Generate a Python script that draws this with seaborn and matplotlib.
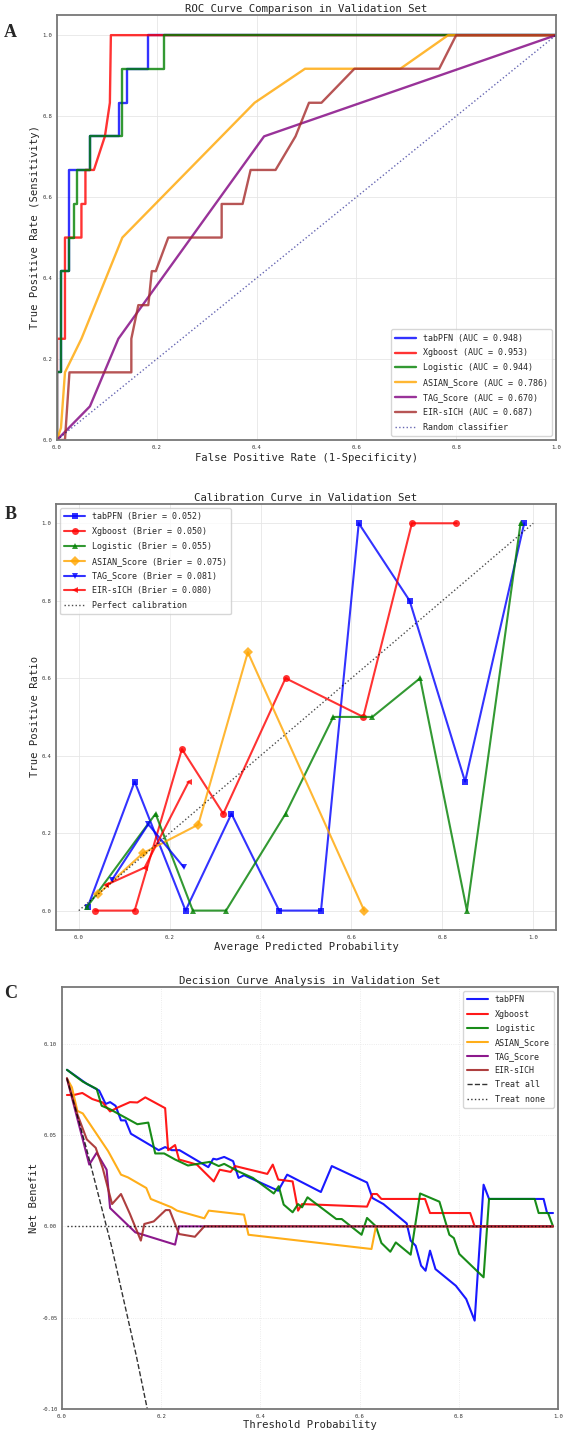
import numpy as np
import pandas as pd
import matplotlib
matplotlib.use("Agg")
import matplotlib.pyplot as plt
import seaborn as sns

# ---- data ----
models = ["tabPFN", "Xgboost", "Logistic", "ASIAN_Score", "TAG_Score", "EIR-sICH"]
colors = ["blue", "red", "green", "orange", "purple", "brown"]
auc = [0.948, 0.953, 0.944, 0.786, 0.670, 0.687]
brier = [0.052, 0.050, 0.055, 0.075, 0.081, 0.080]
cal_markers = ["s", "o", "^", "D", "v", "<"]
cal_colors = ["blue", "red", "green", "orange", "blue", "red"]

# ROC curves
roc_fpr_tabpfn = [0, 0, 0.009, 0.009, 0.025, 0.025, 0.066, 0.066, 0.124, 0.124, 0.141, 0.141, 0.182, 0.182, 1]
roc_tpr_tabpfn = [0, 0.167, 0.167, 0.417, 0.417, 0.667, 0.667, 0.75, 0.75, 0.833, 0.833, 0.917, 0.917, 1.0, 1]
roc_fpr_xgb = [0, 0, 0.016, 0.016, 0.049, 0.049, 0.057, 0.057, 0.074, 0.096, 0.106, 0.108, 1]
roc_tpr_xgb = [0, 0.25, 0.25, 0.5, 0.5, 0.583, 0.583, 0.667, 0.667, 0.75, 0.833, 1.0, 1]
roc_fpr_log = [0, 0, 0.009, 0.009, 0.025, 0.025, 0.034, 0.034, 0.041, 0.041, 0.066, 0.066, 0.131, 0.131, 0.215, 0.215, 1]
roc_tpr_log = [0, 0.167, 0.167, 0.417, 0.417, 0.5, 0.5, 0.583, 0.583, 0.667, 0.667, 0.75, 0.75, 0.917, 0.917, 1.0, 1]
roc_fpr_asian = [0, 0.008, 0.016, 0.049, 0.131, 0.396, 0.497, 0.688, 0.784, 1]
roc_tpr_asian = [0, 0.03, 0.167, 0.25, 0.5, 0.833, 0.917, 0.917, 1.0, 1]
roc_fpr_tag = [0, 0.066, 0.123, 0.415, 1]
roc_tpr_tag = [0, 0.083, 0.25, 0.75, 1]
roc_fpr_eir = [0, 0.016, 0.025, 0.149, 0.149, 0.163, 0.183, 0.19, 0.198, 0.223, 0.33, 0.33, 0.372,
               0.388, 0.438, 0.478, 0.505, 0.53, 0.596, 0.766, 0.8, 1]
roc_tpr_eir = [0, 0.0, 0.167, 0.167, 0.25, 0.333, 0.333, 0.417, 0.417, 0.5, 0.5, 0.583, 0.583,
               0.667, 0.667, 0.75, 0.833, 0.833, 0.917, 0.917, 1.0, 1]

# calibration curves
cal_x_tabpfn = [0.02, 0.123, 0.235, 0.336, 0.441, 0.533, 0.616, 0.728, 0.850, 0.980]
cal_y_tabpfn = [0.01, 0.333, 0.0, 0.25, 0.0, 0.0, 1.0, 0.8, 0.333, 1.0]
cal_x_xgb = [0.036, 0.123, 0.227, 0.318, 0.455, 0.626, 0.733, 0.831]
cal_y_xgb = [0.0, 0.0, 0.417, 0.25, 0.6, 0.5, 1.0, 1.0]
cal_x_log = [0.018, 0.169, 0.251, 0.324, 0.455, 0.560, 0.646, 0.751, 0.854, 0.972]
cal_y_log = [0.009, 0.25, 0.0, 0.0, 0.25, 0.5, 0.5, 0.6, 0.0, 1.0]
cal_x_asian = [0.043, 0.141, 0.263, 0.372, 0.628]
cal_y_asian = [0.043, 0.148, 0.222, 0.667, 0.0]
cal_x_tag = [0.073, 0.153, 0.231]
cal_y_tag = [0.079, 0.223, 0.112]
cal_x_eir = [0.06, 0.145, 0.242]
cal_y_eir = [0.066, 0.111, 0.333]

# decision curves
dca_t_tabpfn = [0.01, 0.05, 0.075, 0.088, 0.097, 0.108, 0.119, 0.128, 0.139, 0.195, 0.208, 0.221, 0.237,
                0.295, 0.305, 0.312, 0.327, 0.345, 0.356, 0.367, 0.436, 0.454, 0.522, 0.544, 0.615, 0.626,
                0.648, 0.695, 0.703, 0.713, 0.724, 0.733, 0.742, 0.753, 0.794, 0.815, 0.832, 0.850, 0.861,
                0.971, 0.978, 0.99]
dca_nb_tabpfn = [0.0857, 0.078, 0.0743, 0.067, 0.068, 0.066, 0.058, 0.058, 0.0507, 0.0417, 0.0434, 0.0417, 0.0417,
                 0.0324, 0.037, 0.0366, 0.038, 0.0357, 0.0265, 0.028, 0.0195, 0.0283, 0.0188, 0.033, 0.024, 0.0155,
                 0.0122, 0.0016, -0.0078, -0.0106, -0.0215, -0.0243, -0.0133, -0.0234, -0.0325, -0.0398, -0.0516, 0.0228, 0.015,
                 0.015, 0.0073, 0.0073]
dca_t_xgb = [0.01, 0.024, 0.041, 0.061, 0.082, 0.097, 0.112, 0.137, 0.152, 0.168, 0.208, 0.214, 0.228, 0.236,
             0.272, 0.306, 0.318, 0.340, 0.349, 0.414, 0.425, 0.436, 0.465, 0.476, 0.484, 0.615, 0.626, 0.635,
             0.644, 0.732, 0.742, 0.823, 0.832, 0.99]
dca_nb_xgb = [0.0719, 0.0719, 0.073, 0.0697, 0.0678, 0.0629, 0.065, 0.068, 0.0678, 0.0706, 0.0647, 0.0417, 0.0445, 0.0366,
              0.0338, 0.0246, 0.031, 0.0298, 0.033, 0.0287, 0.0338, 0.0256, 0.0246, 0.0086, 0.0122, 0.0108, 0.0177, 0.0177,
              0.015, 0.015, 0.0073, 0.0073, 0.0, 0.0]
dca_t_log = [0.01, 0.042, 0.07, 0.08, 0.097, 0.115, 0.152, 0.174, 0.188, 0.206, 0.228, 0.254, 0.298, 0.316,
             0.327, 0.356, 0.385, 0.427, 0.437, 0.447, 0.465, 0.476, 0.484, 0.495, 0.553, 0.564, 0.604, 0.615,
             0.633, 0.644, 0.662, 0.673, 0.703, 0.722, 0.761, 0.781, 0.790, 0.801, 0.850, 0.861, 0.953, 0.961,
             0.98, 0.99]
dca_nb_log = [0.0857, 0.0792, 0.0752, 0.066, 0.0641, 0.0614, 0.0559, 0.0568, 0.0399, 0.0399, 0.0366, 0.0333, 0.0353, 0.033,
              0.0342, 0.030, 0.0265, 0.018, 0.022, 0.0119, 0.0077, 0.0122, 0.0104, 0.0159, 0.004, 0.004, -0.0046, 0.0046,
              0.0, -0.0091, -0.0139, -0.0088, -0.0155, 0.018, 0.0135, -0.0046, -0.0064, -0.0151, -0.0279, 0.015, 0.015, 0.0073,
              0.0073, 0.0]
dca_t_asian = [0.01, 0.02, 0.031, 0.042, 0.068, 0.093, 0.119, 0.133, 0.170, 0.179, 0.221, 0.232, 0.287, 0.296,
               0.367, 0.376, 0.624, 0.633, 0.99]
dca_nb_asian = [0.081, 0.0761, 0.0632, 0.0618, 0.0513, 0.0412, 0.0283, 0.0268, 0.021, 0.015, 0.0104, 0.0086, 0.0044, 0.0086,
                0.0064, -0.0046, -0.0124, 0.0, 0.0]
dca_t_tag = [0.01, 0.055, 0.07, 0.09, 0.097, 0.148, 0.159, 0.228, 0.236, 0.99]
dca_nb_tag = [0.081, 0.0338, 0.0403, 0.031, 0.010, -0.0033, -0.0042, -0.010, 0.0, 0.0]
dca_t_eir = [0.01, 0.031, 0.05, 0.068, 0.082, 0.101, 0.119, 0.137, 0.159, 0.166, 0.185, 0.209, 0.217, 0.236,
             0.268, 0.287, 0.99]
dca_nb_eir = [0.081, 0.0614, 0.0476, 0.043, 0.032, 0.0122, 0.0177, 0.0068, -0.0078, 0.0013, 0.0027, 0.0089, 0.0089, -0.0042,
              -0.0057, 0.0, 0.0]
treat_all_t = [0.01, 0.05, 0.10, 0.15, 0.172]
treat_all_nb = [0.081, 0.042, -0.011, -0.071, -0.10]
treat_none_t = [0.01, 0.99]
treat_none_nb = [0.0, 0.0]

roc_fpr = [roc_fpr_tabpfn, roc_fpr_xgb, roc_fpr_log, roc_fpr_asian, roc_fpr_tag, roc_fpr_eir]
roc_tpr = [roc_tpr_tabpfn, roc_tpr_xgb, roc_tpr_log, roc_tpr_asian, roc_tpr_tag, roc_tpr_eir]
cal_x = [cal_x_tabpfn, cal_x_xgb, cal_x_log, cal_x_asian, cal_x_tag, cal_x_eir]
cal_y = [cal_y_tabpfn, cal_y_xgb, cal_y_log, cal_y_asian, cal_y_tag, cal_y_eir]
dca_t = [dca_t_tabpfn, dca_t_xgb, dca_t_log, dca_t_asian, dca_t_tag, dca_t_eir]
dca_nb = [dca_nb_tabpfn, dca_nb_xgb, dca_nb_log, dca_nb_asian, dca_nb_tag, dca_nb_eir]

# ---- style ----
sns.set_style("whitegrid")
plt.rcParams['font.family'] = ['DejaVu Sans Mono', 'DejaVu Sans']
plt.rcParams['axes.unicode_minus'] = False
plt.rcParams['axes.edgecolor'] = '#777777'
plt.rcParams['axes.linewidth'] = 1.3
plt.rcParams['grid.color'] = '#e6e6e6'
plt.rcParams['grid.linewidth'] = 0.6

TITLE_FS = 7.7
LABEL_FS = 7.6
TICK_FS = 4
LEG_FS = 6

fig = plt.figure(figsize=(5.67, 14.34), dpi=100)
ax_a = fig.add_axes([0.1005, 0.6932, 0.8801, 0.2964])
ax_b = fig.add_axes([0.0988, 0.3515, 0.8818, 0.2971])
ax_c = fig.add_axes([0.1093, 0.0174, 0.8748, 0.2943])


def style_axes(ax):
    ax.tick_params(labelsize=TICK_FS, length=2, width=0.6, pad=1.5, colors='#333333')
    for s in ax.spines.values():
        s.set_color('#777777')
        s.set_linewidth(1.3)


# 1. ROC
for i, m in enumerate(models):
    sns.lineplot(x=roc_fpr[i], y=roc_tpr[i], sort=False, estimator=None, ax=ax_a,
                 color=colors[i], lw=1.7, alpha=0.8, label=f"{m} (AUC = {auc[i]:.3f})")
sns.lineplot(x=[0, 1], y=[0, 1], sort=False, estimator=None, ax=ax_a, color='navy',
             lw=1, linestyle=':', alpha=0.6, label="Random classifier")
ax_a.set_xlim(0, 1)
ax_a.set_ylim(0, 1.05)
ax_a.set_title("ROC Curve Comparison in Validation Set", fontsize=TITLE_FS, pad=2)
ax_a.set_xlabel("False Positive Rate (1-Specificity)", fontsize=LABEL_FS)
ax_a.set_ylabel("True Positive Rate (Sensitivity)", fontsize=LABEL_FS)
ax_a.xaxis.set_label_coords(0.5, -0.031)
ax_a.yaxis.set_label_coords(-0.034, 0.5)
ax_a.legend(loc='lower right', fontsize=LEG_FS, handlelength=2.5, borderpad=0.5, labelspacing=0.7)
style_axes(ax_a)

# 2. Calibration
for i, m in enumerate(models):
    sns.lineplot(x=cal_x[i], y=cal_y[i], sort=False, estimator=None, ax=ax_b,
                 color=cal_colors[i], marker=cal_markers[i], markersize=5, markeredgewidth=0,
                 lw=1.5, alpha=0.8, label=f"{m} (Brier = {brier[i]:.3f})")
sns.lineplot(x=[0, 1], y=[0, 1], sort=False, estimator=None, ax=ax_b, color='k',
             lw=1, linestyle=':', alpha=0.7, label="Perfect calibration")
ax_b.set_xlim(-0.05, 1.05)
ax_b.set_ylim(-0.05, 1.05)
ax_b.set_title("Calibration Curve in Validation Set", fontsize=TITLE_FS, pad=2)
ax_b.set_xlabel("Average Predicted Probability", fontsize=LABEL_FS)
ax_b.set_ylabel("True Positive Ratio", fontsize=LABEL_FS)
ax_b.xaxis.set_label_coords(0.5, -0.028)
ax_b.yaxis.set_label_coords(-0.032, 0.5)
ax_b.legend(loc='upper left', fontsize=LEG_FS, handlelength=2.5, borderpad=0.5, labelspacing=0.7)
style_axes(ax_b)

# 3. Decision curve
for i, m in enumerate(models):
    sns.lineplot(x=dca_t[i], y=dca_nb[i], sort=False, estimator=None, ax=ax_c,
                 color=colors[i], lw=1.5, alpha=0.9, label=m)
sns.lineplot(x=treat_all_t, y=treat_all_nb, sort=False, estimator=None, ax=ax_c, color='k',
             lw=1, linestyle='--', alpha=0.8, label="Treat all")
sns.lineplot(x=treat_none_t, y=treat_none_nb, sort=False, estimator=None, ax=ax_c, color='k',
             lw=1, linestyle=':', alpha=0.8, label="Treat none")
ax_c.set_xlim(0, 1)
ax_c.set_ylim(-0.10, 0.131)
ax_c.set_yticks([-0.10, -0.05, 0.0, 0.05, 0.10])
ax_c.set_title("Decision Curve Analysis in Validation Set", fontsize=TITLE_FS, pad=2)
ax_c.set_xlabel("Threshold Probability", fontsize=LABEL_FS)
ax_c.set_ylabel("Net Benefit", fontsize=LABEL_FS)
ax_c.xaxis.set_label_coords(0.5, -0.026)
ax_c.yaxis.set_label_coords(-0.046, 0.5)
ax_c.grid(linestyle=':')
ax_c.legend(loc='upper right', fontsize=LEG_FS, handlelength=2.5, borderpad=0.5, labelspacing=0.62)
style_axes(ax_c)

# panel letters
for letter, y in zip(["A", "B", "C"], [0.977, 0.641, 0.3075]):
    fig.text(0.018, y, letter, fontsize=13, fontweight='bold', family='Liberation Serif',
             ha='center', va='center')

fig.savefig("out.png", dpi=100)
